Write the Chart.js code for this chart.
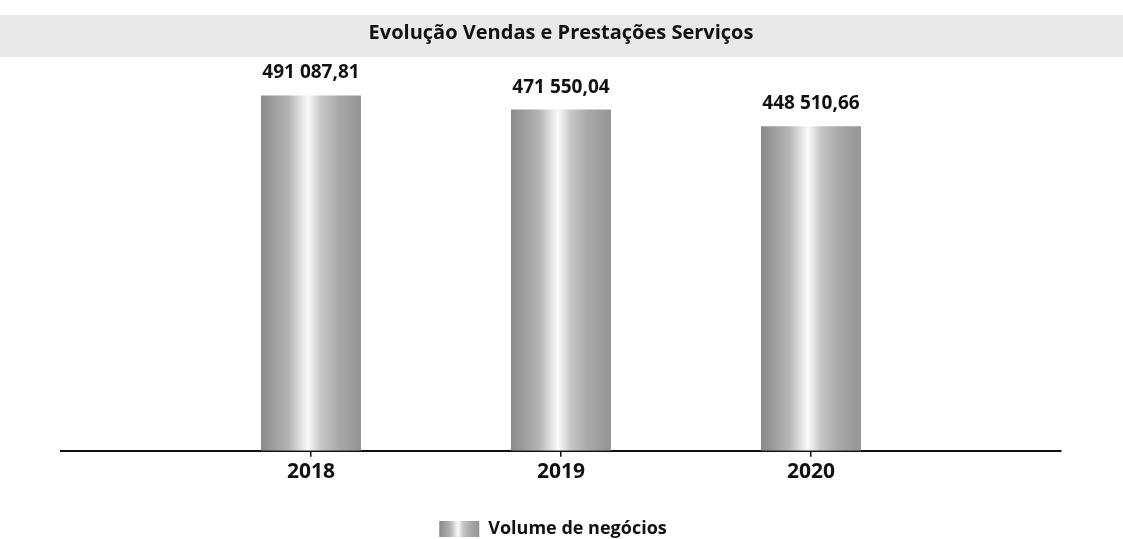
<!DOCTYPE html>
<html>
<head>
<meta charset="utf-8">
<script src="https://cdn.jsdelivr.net/npm/chart.js@4"></script>
<style>
  html, body { margin: 0; padding: 0; background: #ffffff; }
  #wrap { width: 1123px; height: 539px; }
</style>
</head>
<body>
<div id="wrap"><canvas id="c" width="1123" height="539"></canvas></div>
<script>
const chartTitle = 'Evolução Vendas e Prestações Serviços';
const years = ['2018', '2019', '2020'];
const seriesName = 'Volume de negócios';
const volumeValues = [491087.81, 471550.04, 448510.66];

function fmtPt(v) {
  const parts = v.toFixed(2).split('.');
  const intPart = parts[0].replace(/\B(?=(\d{3})+(?!\d))/g, ' ');
  return intPart + ',' + parts[1];
}

function barGradient(ctx2d, left, width) {
  const g = ctx2d.createLinearGradient(left, 0, left + width, 0);
  g.addColorStop(0, '#8a8a8a');
  g.addColorStop(0.28, '#b4b4b4');
  g.addColorStop(0.47, '#fbfbfb');
  g.addColorStop(0.6, '#c6c6c6');
  g.addColorStop(0.78, '#a8a8a8');
  g.addColorStop(1, '#959595');
  return g;
}

const decorPlugin = {
  id: 'decor',
  afterLayout(chart) {
    const lg = chart.legend;
    if (lg) {
      lg.top += 9; lg.bottom += 9;
      lg.left -= 8; lg.right -= 8;
    }
  },
  beforeDraw(chart) {
    const ctx = chart.ctx;
    ctx.save();
    ctx.fillStyle = '#e9e9e9';
    ctx.fillRect(0, 15, chart.width, 42);
    ctx.restore();
    const lg = chart.legend;
    if (lg && lg.legendItems && lg.legendItems.length && lg.legendHitBoxes && lg.legendHitBoxes.length) {
      const hb = lg.legendHitBoxes[0];
      lg.legendItems[0].fillStyle = barGradient(ctx, hb.left, 40);
    }
  },
  afterDatasetsDraw(chart) {
    const ctx = chart.ctx;
    const meta = chart.getDatasetMeta(0);
    ctx.save();
    ctx.font = 'bold 19px "Open Sans"';
    ctx.fillStyle = '#111111';
    ctx.textAlign = 'center';
    ctx.textBaseline = 'alphabetic';
    meta.data.forEach((bar, i) => {
      ctx.fillText(fmtPt(volumeValues[i]), bar.x, bar.y - 17);
    });
    ctx.restore();
  }
};

const ctx = document.getElementById('c').getContext('2d');
new Chart(ctx, {
  type: 'bar',
  data: {
    datasets: [{
      label: seriesName,
      data: volumeValues.map((v, i) => ({ x: i, y: v })),
      backgroundColor: (c) => {
        const chart = c.chart;
        if (!chart.chartArea || c.raw === undefined || c.raw === null) return '#b0b0b0';
        const xs = chart.scales.x;
        const spacing = xs.getPixelForValue(1) - xs.getPixelForValue(0);
        const w = spacing * 0.4;
        const cx = xs.getPixelForValue(c.raw.x);
        return barGradient(chart.ctx, cx - w / 2, w);
      },
      borderWidth: 0,
      categoryPercentage: 1,
      barPercentage: 0.4
    }]
  },
  options: {
    responsive: false,
    animation: false,
    layout: { padding: { left: 61, right: 62, top: 0, bottom: 0 } },
    plugins: {
      title: {
        display: true,
        text: chartTitle,
        color: '#111111',
        font: { family: '"Open Sans"', size: 20, weight: 'bold' },
        padding: { top: 21, bottom: 15 }
      },
      legend: {
        display: true,
        position: 'bottom',
        labels: {
          boxWidth: 40,
          boxHeight: 16,
          padding: 2,
          color: '#111111',
          font: { family: '"Open Sans"', size: 18, weight: 'bold' }
        }
      },
      tooltip: { enabled: false }
    },
    scales: {
      x: {
        type: 'linear',
        min: -1,
        max: 3,
        offset: false,
        grid: { display: true, offset: false, drawOnChartArea: false, drawTicks: true, tickLength: 6, color: '#111111', lineWidth: 1.5 },
        border: { display: true, color: '#111111', width: 2 },
        afterBuildTicks: (scale) => { scale.ticks = years.map((_, i) => ({ value: i })); },
        afterFit: (scale) => { scale.height += 21; },
        ticks: {
          padding: 3,
          color: '#111111',
          font: { family: '"Open Sans"', size: 21, weight: 'bold' },
          callback: (val, idx) => years[idx],
          maxRotation: 0,
          autoSkip: false
        }
      },
      y: {
        display: false,
        min: 0,
        max: 540000
      }
    }
  },
  plugins: [decorPlugin]
});
</script>
</body>
</html>
